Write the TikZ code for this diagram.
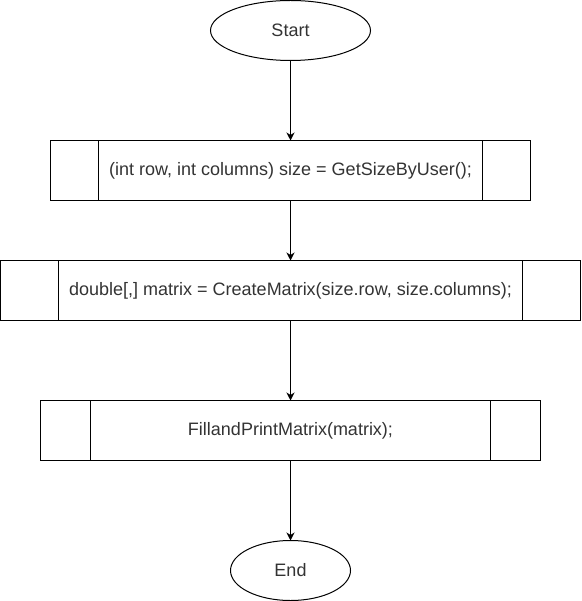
\documentclass[tikz,border=0pt]{standalone}
\usepackage{fontspec}
\setmainfont{Liberation Sans}
\usetikzlibrary{shapes.geometric, arrows.meta, positioning, calc}
\tikzstyle{startstop} = [ellipse, minimum height=60pt, inner sep=0pt, outer sep=0pt, text centered, draw=black, line width=1pt]
\tikzstyle{process} = [rectangle, minimum height=60pt, inner sep=0pt, outer sep=0pt, text centered, draw=black, line width=1pt]
\tikzstyle{arrow} = [line width=1pt,->,>={Stealth[length=8pt,width=8pt,inset=2.5pt]}]

\begin{document}
\begin{tikzpicture}[x=1pt, y=1pt, font=\fontsize{18}{21}\selectfont, text=black!80]
            \useasboundingbox (-0.5,0.5) rectangle (580.5,-600.5);
            \node (start) [startstop, minimum width=160pt] at (290,-30) {Start};
            \node (pro1) [process, minimum width=480pt, below=80pt of start] {(int row, int columns) size = GetSizeByUser();};
            \node (pro2) [process, minimum width=580pt, below=60pt of pro1] {double[,] matrix = CreateMatrix(size.row, size.columns);};
            \node (pro3) [process, minimum width=500pt, below=80pt of pro2] {FillandPrintMatrix(matrix);};
            \node (stop) [startstop, minimum width=120pt, below=80pt of pro3] {End};

            \draw [arrow] (start) -- (pro1);
            \draw [arrow] (pro1) -- (pro2);
            \draw [arrow] (pro2) -- (pro3);
            \draw [arrow] (pro3) -- (stop);

            % side bars of the subroutine boxes
            \draw [line width=1pt] ($(pro1.north west)+(48,0)$) -- ($(pro1.south west)+(48,0)$);
            \draw [line width=1pt] ($(pro1.north east)+(-48,0)$) -- ($(pro1.south east)+(-48,0)$);
            \draw [line width=1pt] ($(pro2.north west)+(58,0)$) -- ($(pro2.south west)+(58,0)$);
            \draw [line width=1pt] ($(pro2.north east)+(-58,0)$) -- ($(pro2.south east)+(-58,0)$);
            \draw [line width=1pt] ($(pro3.north west)+(50,0)$) -- ($(pro3.south west)+(50,0)$);
            \draw [line width=1pt] ($(pro3.north east)+(-50,0)$) -- ($(pro3.south east)+(-50,0)$);
\end{tikzpicture}
\end{document}
